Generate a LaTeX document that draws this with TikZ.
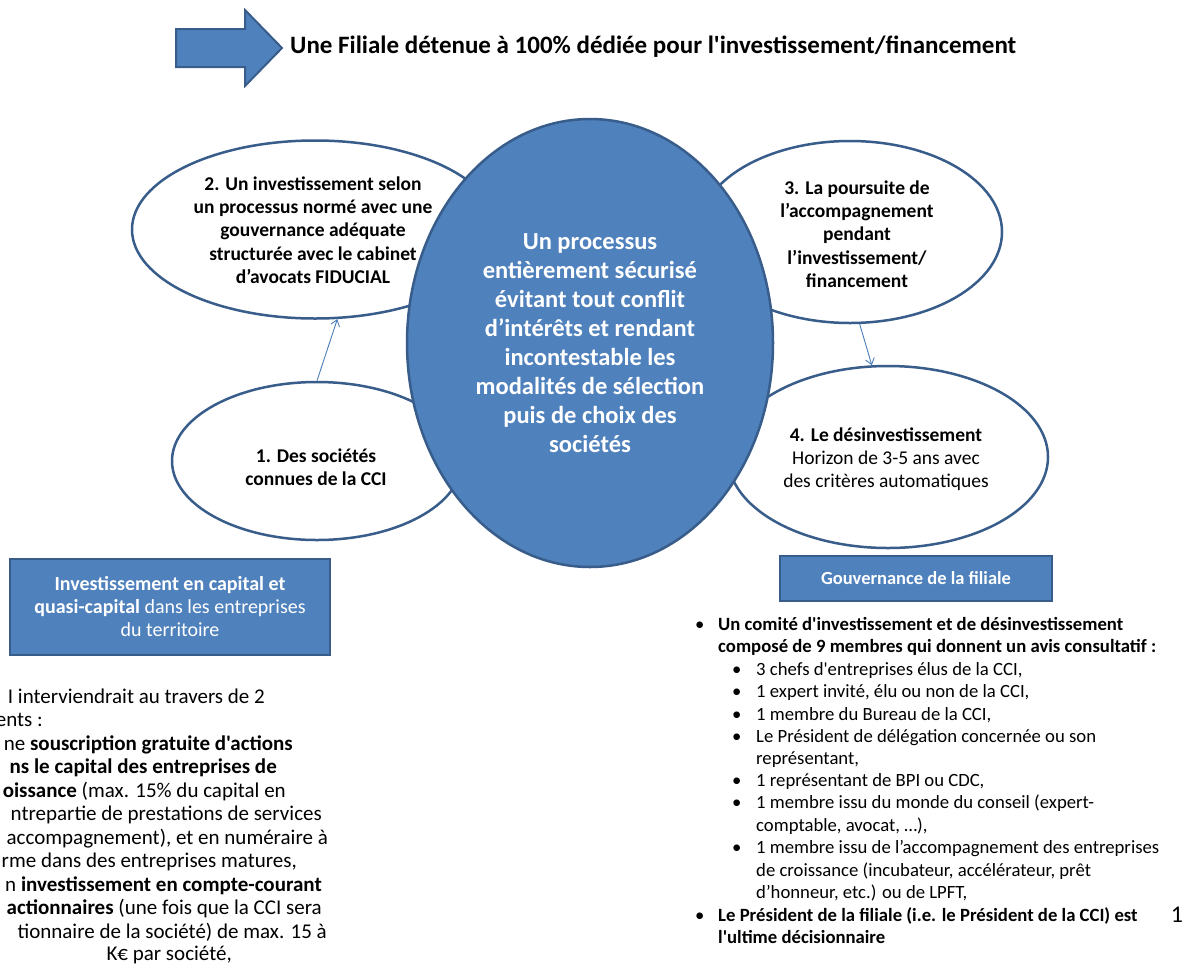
\documentclass[tikz,border=0pt]{standalone}
\usepackage{fontspec}
\setmainfont{Carlito}[Ligatures=TeXOff]
\usetikzlibrary{shapes.geometric,arrows.meta}
\definecolor{bfill}{HTML}{4F81BD}
\definecolor{bline}{HTML}{385D8A}
\definecolor{conn}{HTML}{4A7EBB}
\tikzset{
  oval/.style={ellipse, draw=bline, line width=2.5pt, fill=white, inner sep=0pt},
  ovaltext/.style={inner sep=0pt, align=center, font=\bfseries\fontsize{19.5}{23.3}\selectfont},
  bigoval/.style={ellipse, draw=bline, line width=2.5pt, fill=bfill, inner sep=0pt, align=center,
    text=white, font=\bfseries\fontsize{24.5}{29}\selectfont},
  bluebox/.style={rectangle, draw=bline, line width=2pt, fill=bfill, inner sep=0pt, align=center, text=white},
  conline/.style={draw=conn, line width=0.9pt, -{Straight Barb[length=6pt,width=9pt]}},
  ltext/.style={anchor=base east, inner sep=0pt, font=\fontsize{21}{24}\selectfont},
  rtext/.style={anchor=base west, inner sep=0pt, font=\fontsize{18.7}{22}\selectfont},
  bigarrow/.style={draw=bline, line width=2pt, fill=bfill, line join=miter},
}
\begin{document}
\begin{tikzpicture}[x=1pt,y=-1pt]
\useasboundingbox (0,0) rectangle (1193,967);
\clip (0,0) rectangle (1193,967);
\fill[white] (0,0) rectangle (1193,967);

% top arrow and title
\draw[bigarrow] (176,29) -- (245,29) -- (245,10) -- (282,48) -- (245,86) -- (245,67) -- (176,67) -- cycle;
\node[anchor=west, inner sep=0pt, font=\bfseries\fontsize{25}{30}\selectfont] (title) at (290,47)
  {Une Filiale détenue à 100\% dédiée pour l'investissement/financement};

% ellipses
\node[oval, minimum width=366pt, minimum height=178pt] (e2) at (315,229.5) {};
\node[ovaltext] (t2) at (313,230)
  {2. Un investissement selon\\un processus normé avec une\\gouvernance adéquate\\structurée avec le cabinet\\d’avocats FIDUCIAL};
\node[oval, minimum width=304pt, minimum height=182pt] (e3) at (850,232) {};
\node[ovaltext] (t3) at (857,234)
  {3. La poursuite de\\l’accompagnement\\pendant\\l’investissement/\\financement};
\node[oval, minimum width=290pt, minimum height=158pt] (e1) at (317,461) {};
\node[ovaltext] (t1) at (316,467)
  {1. Des sociétés\\connues de la CCI};
\node[oval, minimum width=320pt, minimum height=182pt] (e4) at (888,457) {};
\node[ovaltext, font=\fontsize{19.5}{23}\selectfont] (t4) at (886,459)
  {\textbf{4. Le désinvestissement}\\Horizon de 3-5 ans avec\\des critères automatiques};
\node[bigoval, minimum width=366pt, minimum height=448pt] (c) at (590,343)
  {Un processus\\entièrement sécurisé\\évitant tout conflit\\d’intérêts et rendant\\incontestable les\\modalités de sélection\\puis de choix des\\sociétés};

% connectors
\draw[conline] (e1.90) -- (e2.-76);
\draw[conline] (e3.-84) -- (e4.100);

% blue boxes
\node[bluebox, minimum width=320pt, minimum height=96pt, font=\fontsize{20}{23}\selectfont] (lbox) at (170,607)
  {\textbf{Investissement en capital et}\\\textbf{quasi-capital} dans les entreprises\\du territoire};
\node[bluebox, minimum width=272pt, minimum height=45pt, font=\bfseries\fontsize{18.5}{22}\selectfont] (rbox) at (916,578)
  {Gouvernance de la filiale};

% left text (cut at the page edge, as in the reference)
\node[ltext] (l1) at (265,703) {I interviendrait au travers de 2};
\node[ltext] (l2) at (43,726.5) {ents :};
\node[ltext] (l3) at (293,750) {ne \textbf{souscription gratuite d'actions}};
\node[ltext] (l4) at (277,773.5) {\textbf{ns le capital des entreprises de}};
\node[ltext] (l5) at (286,797) {\textbf{oissance} (max. 15\% du capital en};
\node[ltext] (l6) at (322,820.5) {ntrepartie de prestations de services};
\node[ltext] (l7) at (328,844) {accompagnement), et en numéraire à};
\node[ltext] (l8) at (297,867.5) {rme dans des entreprises matures,};
\node[ltext] (l9) at (322,891) {n \textbf{investissement en compte-courant}};
\node[ltext] (l10) at (322,914.5) {\textbf{actionnaires} (une fois que la CCI sera};
\node[ltext] (l11) at (327,938) {tionnaire de la société) de max. 15 à};
\node[ltext] (l12) at (232,960.5) {K€ par société,};

% right list
\node[rtext] (b1) at (695,630) {•};
\node[rtext] (r1) at (718,630) {\textbf{Un comité d'investissement et de désinvestissement}};
\node[rtext] (r2) at (718,652) {\textbf{composé de 9 membres qui donnent un avis consultatif :}};
\node[rtext] (b3) at (732,675) {•};
\node[rtext] (r3) at (756,675) {3 chefs d'entreprises élus de la CCI,};
\node[rtext] (b4) at (732,697) {•};
\node[rtext] (r4) at (756,697) {1 expert invité, élu ou non de la CCI,};
\node[rtext] (b5) at (732,720) {•};
\node[rtext] (r5) at (756,720) {1 membre du Bureau de la CCI,};
\node[rtext] (b6) at (732,742) {•};
\node[rtext] (r6) at (756,742) {Le Président de délégation concernée ou son};
\node[rtext] (r7) at (756,764) {représentant,};
\node[rtext] (b8) at (732,786) {•};
\node[rtext] (r8) at (756,786) {1 représentant de BPI ou CDC,};
\node[rtext] (b9) at (732,808) {•};
\node[rtext] (r9) at (756,808) {1 membre issu du monde du conseil (expert-};
\node[rtext] (r10) at (756,831) {comptable, avocat, …),};
\node[rtext] (b11) at (732,853) {•};
\node[rtext] (r11) at (756,853) {1 membre issu de l’accompagnement des entreprises};
\node[rtext] (r12) at (756,876) {de croissance (incubateur, accélérateur, prêt};
\node[rtext] (r13) at (756,898) {d’honneur, etc.) ou de LPFT,};
\node[rtext] (b14) at (695,921) {•};
\node[rtext] (r14) at (718,921) {\textbf{Le Président de la filiale (i.e. le Président de la CCI) est}};
\node[rtext] (r15) at (718,943) {\textbf{l'ultime décisionnaire}};

% page number
\node[anchor=base, inner sep=0pt, font=\fontsize{24}{28}\selectfont] (pnum) at (1177,922) {1};
\end{tikzpicture}
\end{document}
